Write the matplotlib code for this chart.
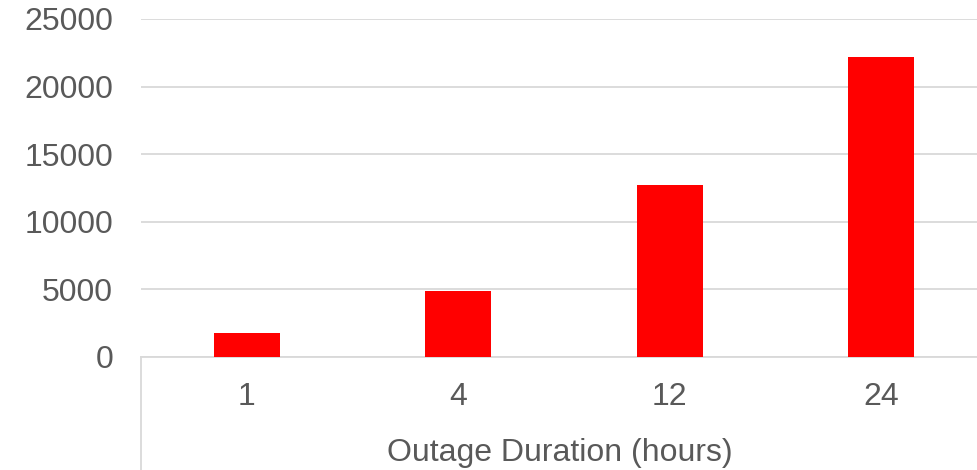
import matplotlib.pyplot as plt
import matplotlib

matplotlib.rcParams.update({
    'font.family': 'Liberation Sans',
    'font.size': 23,
})

# Outage cost by outage duration
durations = ["1", "4", "12", "24"]
costs = [1780, 4880, 12720, 22210]

text_color = "#595959"
grid_color = "#d9d9d9"

fig = plt.figure(figsize=(9.78, 4.70), dpi=100)
ax = fig.add_axes([141 / 978, 113 / 470, 837 / 978, 338 / 470])

index = range(len(durations))
ax.bar(index, costs, 0.31, color="#ff0000", zorder=3)

ax.set_xlim(-0.5, -0.5 + 837 / 211.5)
ax.set_ylim(0, 25000)
ax.set_yticks(range(0, 25001, 5000))
ax.set_xticks(list(index))
ax.set_xticklabels(durations)

ax.yaxis.grid(True, color=grid_color, linewidth=1.3, zorder=0)
for side in ["top", "right", "left"]:
    ax.spines[side].set_visible(False)
ax.spines["bottom"].set_color(grid_color)
ax.spines["bottom"].set_linewidth(1.3)

ax.tick_params(axis="both", length=0, colors=text_color)
ax.tick_params(axis="y", pad=20)
ax.tick_params(axis="x", pad=18)

# category axis boundary running down past the labels
ax.plot([-0.5, -0.5], [0, -0.4], transform=ax.get_xaxis_transform(),
        color=grid_color, linewidth=1.3, clip_on=False)

ax.set_xlabel("Outage Duration (hours)", color=text_color, labelpad=18.5)

fig.savefig("out.png", dpi=100)
